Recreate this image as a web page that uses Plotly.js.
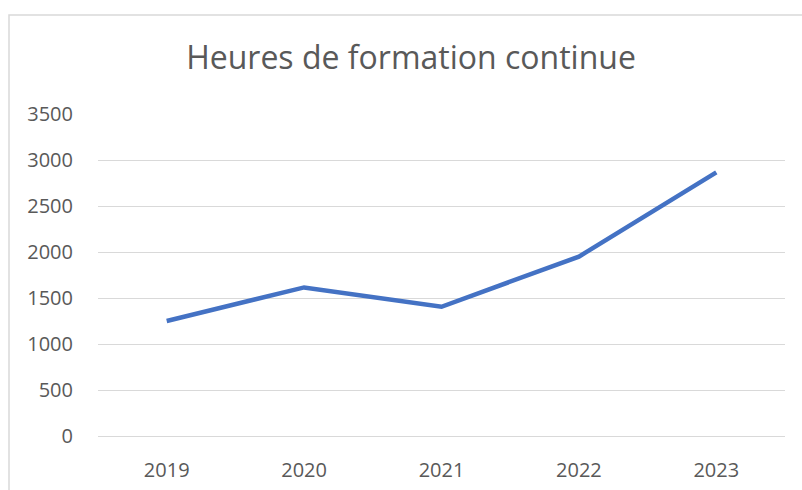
<!DOCTYPE html>
<html>
<head>
<meta charset="utf-8">
<script src="https://cdn.plot.ly/plotly-3.0.1.min.js"></script>
<style>
  html, body { margin: 0; padding: 0; background: #fff; }
  #chart { width: 802px; height: 490px; }
</style>
</head>
<body>
<div id="chart"></div>
<script>
const years = ["2019", "2020", "2021", "2022", "2023"];
const hours = [1250, 1615, 1405, 1950, 2865];
const yTicks = [0, 500, 1000, 1500, 2000, 2500, 3000, 3500];
const chartTitle = "Heures de formation continue";

const W = 802, H = 490;
const L = 98, R = 17, T = 114, B = 54;
const pw = W - L - R, ph = H - T - B;

const trace = {
  x: years,
  y: hours,
  type: "scatter",
  mode: "lines",
  line: { color: "#4472C4", width: 4.5 },
  hoverinfo: "x+y"
};

const layout = {
  width: W,
  height: H,
  margin: { l: L, r: R, t: T, b: B, pad: 0 },
  paper_bgcolor: "#ffffff",
  plot_bgcolor: "#ffffff",
  showlegend: false,
  font: { family: "'Open Sans', sans-serif", color: "#595959", size: 20 },
  title: {
    text: chartTitle,
    font: { family: "'Open Sans', sans-serif", size: 32, color: "#595959", weight: 400 },
    x: 411 / W,
    xref: "container",
    xanchor: "center",
    y: 1 - 58 / H,
    yref: "container",
    yanchor: "middle"
  },
  xaxis: {
    type: "category",
    range: [-0.5, 4.5],
    showgrid: false,
    zeroline: false,
    showline: true,
    linecolor: "#d9d9d9",
    linewidth: 1,
    ticks: "outside",
    ticklen: 16,
    tickcolor: "rgba(0,0,0,0)",
    tickfont: { size: 20, color: "#595959" },
    fixedrange: true
  },
  yaxis: {
    range: [0, 3500],
    tickvals: yTicks,
    ticktext: yTicks.map(String),
    showgrid: true,
    gridcolor: "#d9d9d9",
    gridwidth: 1,
    zeroline: false,
    showline: false,
    ticks: "outside",
    ticklen: 20,
    tickcolor: "rgba(0,0,0,0)",
    tickfont: { size: 20, color: "#595959" },
    fixedrange: true
  },
  shapes: [{
    type: "rect",
    xref: "paper", yref: "paper",
    x0: (9 - L) / pw, x1: (W + 20 - L) / pw,
    y0: -0.3, y1: (T + ph - 15) / ph,
    line: { color: "#d9d9d9", width: 1.5 },
    fillcolor: "rgba(0,0,0,0)",
    layer: "below"
  }]
};

Plotly.newPlot("chart", [trace], layout, { displayModeBar: false, staticPlot: true });
</script>
</body>
</html>
